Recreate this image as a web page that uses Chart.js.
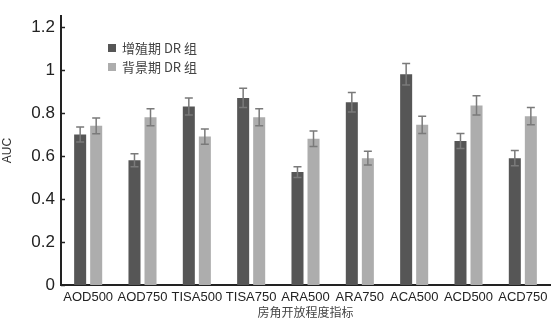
<!DOCTYPE html>
<html>
<head>
<meta charset="utf-8">
<style>
  html, body { margin: 0; padding: 0; background: #fff; }
  #wrap { width: 555px; height: 322px; }
</style>
</head>
<body>
<div id="wrap"><canvas id="aucChart" width="555" height="322"></canvas></div>

<script src="https://cdn.jsdelivr.net/npm/chart.js"></script>
<script>
  const categories = ['AOD500', 'AOD750', 'TISA500', 'TISA750', 'ARA500', 'ARA750', 'ACA500', 'ACD500', 'ACD750'];
  const seriesNames = ['增殖期 DR 组', '背景期 DR 组'];
  const proliferative = [0.70, 0.58, 0.83, 0.87, 0.525, 0.85, 0.98, 0.67, 0.59];
  const proliferativeErr = [0.035, 0.03, 0.04, 0.045, 0.025, 0.045, 0.05, 0.035, 0.035];
  const background = [0.74, 0.78, 0.69, 0.78, 0.68, 0.59, 0.745, 0.835, 0.785];
  const backgroundErr = [0.037, 0.04, 0.035, 0.04, 0.036, 0.032, 0.04, 0.045, 0.04];
  const yTicks = [0, 0.2, 0.4, 0.6, 0.8, 1, 1.2];

  const darkGrey = '#565656';
  const lightGrey = '#adadad';

  // error bars + inside y ticks + legend, drawn with the chart's own scales
  const extras = {
    id: 'extras',
    afterDatasetsDraw(chart) {
      const ctx = chart.ctx;
      const y = chart.scales.y;
      const errs = [proliferativeErr, backgroundErr];
      ctx.save();
      ctx.strokeStyle = '#7a7a7a';
      ctx.lineWidth = 1.5;
      chart.data.datasets.forEach((ds, di) => {
        const meta = chart.getDatasetMeta(di);
        meta.data.forEach((bar, i) => {
          const v = ds.data[i], e = errs[di][i];
          const yTop = y.getPixelForValue(v + e);
          const yBot = y.getPixelForValue(v - e);
          ctx.beginPath();
          ctx.moveTo(bar.x, yTop); ctx.lineTo(bar.x, yBot);
          ctx.moveTo(bar.x - 4, yTop); ctx.lineTo(bar.x + 4, yTop);
          ctx.moveTo(bar.x - 4, yBot); ctx.lineTo(bar.x + 4, yBot);
          ctx.stroke();
        });
      });
      ctx.restore();
    },
    afterDraw(chart) {
      const ctx = chart.ctx;
      const y = chart.scales.y;
      const left = chart.chartArea.left;
      ctx.save();
      ctx.strokeStyle = '#222';
      ctx.lineWidth = 1.5;
      yTicks.forEach(t => {
        const py = Math.round(y.getPixelForValue(t)) + 0.5;
        ctx.beginPath();
        ctx.moveTo(left, py); ctx.lineTo(left + 4, py);
        ctx.stroke();
      });
      // legend
      const colors = [darkGrey, lightGrey];
      ctx.font = '13px "Noto Sans CJK SC", "Liberation Sans", sans-serif';
      ctx.textBaseline = 'middle';
      seriesNames.forEach((name, i) => {
        const cy = 48 + i * 19;
        ctx.fillStyle = colors[i];
        ctx.fillRect(108, cy - 4, 8, 8);
        ctx.fillStyle = '#444';
        ctx.fillText(name, 122, cy);
      });
      ctx.restore();
    }
  };

  new Chart(document.getElementById('aucChart'), {
    type: 'bar',
    data: {
      labels: categories,
      datasets: [
        { label: seriesNames[0], data: proliferative, backgroundColor: darkGrey },
        { label: seriesNames[1], data: background, backgroundColor: lightGrey }
      ]
    },
    options: {
      responsive: false,
      animation: false,
      layout: { padding: { top: 10, right: 5, bottom: 2, left: 0 } },
      datasets: { bar: { categoryPercentage: 0.59, barPercentage: 0.75 } },
      plugins: {
        legend: { display: false },
        tooltip: { enabled: false }
      },
      scales: {
        x: {
          grid: { display: false, drawTicks: false },
          border: { color: '#222', width: 2 },
          ticks: {
            color: '#222',
            padding: 5,
            maxRotation: 0,
            autoSkip: false,
            font: { family: 'Arial, "Liberation Sans", sans-serif', size: 13 }
          },
          title: {
            display: true,
            text: '房角开放程度指标',
            color: '#444',
            padding: { top: 2, bottom: 0 },
            font: { family: '"Noto Sans CJK SC", sans-serif', size: 12 }
          },
          afterFit(scale) { scale.height = 35; }
        },
        y: {
          min: 0,
          max: 1.25,
          grid: { display: false, drawTicks: false },
          border: { color: '#222', width: 2 },
          ticks: {
            color: '#222',
            padding: 6,
            font: { family: 'Arial, "Liberation Sans", sans-serif', size: 17 },
            callback: value => String(Math.round(value * 10) / 10)
          },
          afterBuildTicks(scale) {
            scale.ticks = yTicks.map(v => ({ value: v }));
          },
          title: {
            display: true,
            text: 'AUC',
            color: '#333',
            padding: { top: 0, bottom: 0 },
            font: { family: 'Arial, "Liberation Sans", sans-serif', size: 12 }
          },
          afterFit(scale) { scale.width = 61; }
        }
      }
    },
    plugins: [extras]
  });
</script>
</body>
</html>
